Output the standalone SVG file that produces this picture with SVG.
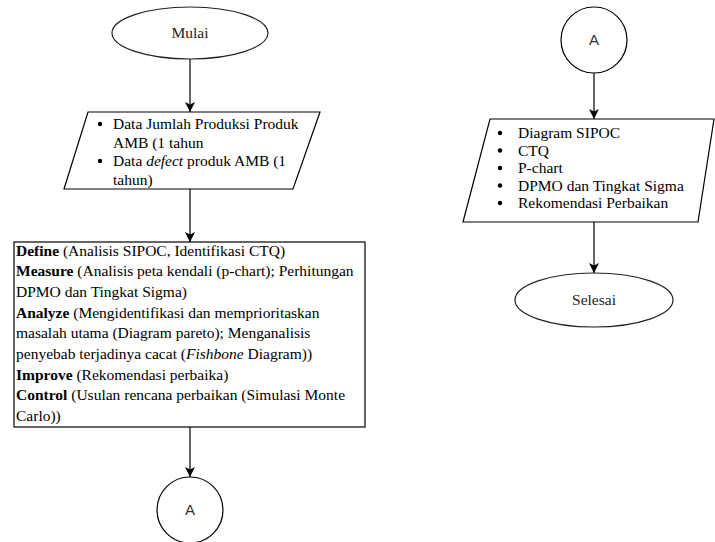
<svg xmlns="http://www.w3.org/2000/svg" width="715" height="542" viewBox="0 0 715 542">
<style>
.shape{fill:#fff;stroke:#000;stroke-width:1.2}
.term{fill:#fff;stroke:#222;stroke-width:1.2}
.t{font-family:"Liberation Serif","Times New Roman",serif;font-size:15.5px;fill:#000}
.c{font-family:"Liberation Serif","Times New Roman",serif;font-size:15.5px;fill:#222;text-anchor:middle}
.a{font-family:"Liberation Sans",Arial,sans-serif;font-size:15px;fill:#333;text-anchor:middle}
.b{font-weight:bold}
.i{font-style:italic}
.line{stroke:#000;stroke-width:1.2;fill:none;marker-end:url(#arr)}
</style>
<defs>
<marker id="arr" viewBox="0 0 10 10" refX="10" refY="5" markerWidth="10" markerHeight="10" markerUnits="userSpaceOnUse" orient="auto">
<path d="M0,0 L10,5 L0,10 L2.5,5 Z" fill="#000"/>
</marker>
</defs>
<rect width="715" height="542" fill="#fff"/>
<g id="connectors">
<line class="line" x1="190" y1="59" x2="190" y2="112"/>
<line class="line" x1="190" y1="189" x2="190" y2="242"/>
<line class="line" x1="190" y1="427" x2="190" y2="477"/>
<line class="line" x1="594" y1="73" x2="594" y2="119"/>
<line class="line" x1="594" y1="222" x2="594" y2="273"/>
</g>
<g id="mulai">
<ellipse class="term" cx="190" cy="33" rx="78" ry="26"/>
<text class="c" x="190" y="38">Mulai</text>
</g>
<g id="input">
<polygon class="shape" points="88,112 320,112 293,189 64,189"/>
<circle cx="100" cy="124" r="2.2" fill="#000"/>
<circle cx="100" cy="161" r="2.2" fill="#000"/>
<text class="t" x="113" y="129">Data Jumlah Produksi Produk</text>
<text class="t" x="113" y="147.5">AMB (1 tahun</text>
<text class="t" x="113" y="166">Data <tspan class="i">defect</tspan> produk AMB (1</text>
<text class="t" x="113" y="184.5">tahun)</text>
</g>
<g id="dmaic">
<rect class="shape" x="14" y="242" width="351" height="185"/>
<text class="t" x="16" y="255.5"><tspan class="b">Define</tspan> (Analisis SIPOC, Identifikasi CTQ)</text>
<text class="t" x="16" y="276.2"><tspan class="b">Measure</tspan> (Analisis peta kendali (p-chart); Perhitungan</text>
<text class="t" x="16" y="296.9">DPMO dan Tingkat Sigma)</text>
<text class="t" x="16" y="317.6"><tspan class="b">Analyze</tspan> (Mengidentifikasi dan memprioritaskan</text>
<text class="t" x="16" y="338.3">masalah utama (Diagram pareto); Menganalisis</text>
<text class="t" x="16" y="359">penyebab terjadinya cacat (<tspan class="i">Fishbone</tspan> Diagram))</text>
<text class="t" x="16" y="379.7"><tspan class="b">Improve</tspan> (Rekomendasi perbaika)</text>
<text class="t" x="16" y="400.4"><tspan class="b">Control</tspan> (Usulan rencana perbaikan (Simulasi Monte</text>
<text class="t" x="16" y="421.1">Carlo))</text>
</g>
<g id="connA1">
<circle class="shape" cx="190" cy="510" r="33"/>
<text class="a" x="190" y="515">A</text>
</g>
<g id="connA2">
<circle class="shape" cx="594" cy="40" r="33"/>
<text class="a" x="594" y="45">A</text>
</g>
<g id="output">
<polygon class="shape" points="490,119 714,119 698,222 463,222"/>
<circle cx="500" cy="133" r="2.2" fill="#000"/>
<circle cx="500" cy="150.5" r="2.2" fill="#000"/>
<circle cx="500" cy="168" r="2.2" fill="#000"/>
<circle cx="500" cy="185.5" r="2.2" fill="#000"/>
<circle cx="500" cy="203" r="2.2" fill="#000"/>
<text class="t" x="518" y="138">Diagram SIPOC</text>
<text class="t" x="518" y="155.5">CTQ</text>
<text class="t" x="518" y="173">P-chart</text>
<text class="t" x="518" y="190.5">DPMO dan Tingkat Sigma</text>
<text class="t" x="518" y="208">Rekomendasi Perbaikan</text>
</g>
<g id="selesai">
<ellipse class="term" cx="594" cy="300" rx="79" ry="27"/>
<text class="c" x="594" y="305">Selesai</text>
</g>
</svg>
